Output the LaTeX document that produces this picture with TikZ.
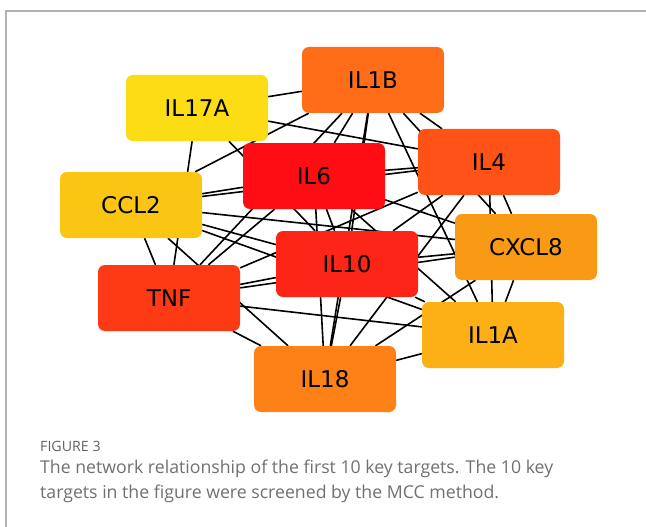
\documentclass[tikz,border=0pt]{standalone}
\usepackage{fontspec}
\newfontfamily\genefont{DejaVu Sans}
\newfontfamily\capfont{Open Sans}
\usetikzlibrary{backgrounds}
\definecolor{cil1b}{RGB}{255,109,24}
\definecolor{cil17a}{RGB}{252,220,20}
\definecolor{cil6}{RGB}{254,13,21}
\definecolor{cil4}{RGB}{255,82,22}
\definecolor{cccl2}{RGB}{251,197,20}
\definecolor{ccxcl8}{RGB}{249,154,20}
\definecolor{cil10}{RGB}{252,37,23}
\definecolor{ctnf}{RGB}{253,58,20}
\definecolor{cil1a}{RGB}{253,175,22}
\definecolor{cil18}{RGB}{254,129,23}
\definecolor{framegray}{RGB}{178,178,178}
\definecolor{captext}{RGB}{112,112,112}
\tikzset{
    % Gene boxes
    gene/.style={rectangle, rounded corners=7pt, fill=#1, draw=none,
                minimum width=142pt, minimum height=66pt, inner sep=0pt,
                font=\genefont\fontsize{23}{26}\selectfont},
    % Interactions
    link/.style={line width=1.6pt, black},
    % Caption
    capnum/.style={anchor=base west, inner sep=0pt, text=captext!110,
                font=\capfont\fontsize{14.2}{17}\selectfont},
    capline/.style={anchor=base west, inner sep=0pt, text=captext,
                font=\capfont\fontsize{17.7}{22}\selectfont},
}

\begin{document}
\begin{tikzpicture}[x=1pt, y=-1pt]
\useasboundingbox (0,0) rectangle (646,527);
\draw[framegray, line width=1.5pt] (6,527) -- (6,11) -- (646,11);

\node[gene=cil1b]  (il1b)  at (373,80)  {IL1B};
\node[gene=cil17a] (il17a) at (197,108) {IL17A};
\node[gene=cil6]   (il6)   at (314,176) {IL6};
\node[gene=cil4]   (il4)   at (489,162) {IL4};
\node[gene=cccl2]  (ccl2)  at (131,205) {CCL2};
\node[gene=ccxcl8] (cxcl8) at (526,247) {CXCL8};
\node[gene=cil10]  (il10)  at (347,264) {IL10};
\node[gene=ctnf]   (tnf)   at (169,298) {TNF};
\node[gene=cil1a]  (il1a)  at (493,335) {IL1A};
\node[gene=cil18]  (il18)  at (325,379) {IL18};

% edges sit behind the boxes
\begin{pgfonlayer}{background}
\foreach \s/\others in {
    il17a/{il1b,il4,il10,tnf},
    il1b/{il6,il4,ccl2,cxcl8,il10,tnf,il1a,il18},
    il6/{il4,ccl2,cxcl8,il10,tnf,il1a,il18},
    il4/{ccl2,cxcl8,il10,tnf,il1a,il18},
    ccl2/{cxcl8,il10,tnf,il1a,il18},
    cxcl8/{il10,tnf,il1a,il18},
    il10/{tnf,il1a,il18},
    tnf/{il1a,il18},
    il1a/{il18}}
  \foreach \t in \others \draw[link] (\s) -- (\t);
\end{pgfonlayer}

\node[capnum]  (fignum) at (40,451) {FIGURE 3};
\node[capline] (cap1)   at (40,473) {The network relationship of the first 10 key targets. The 10 key};
\node[capline] (cap2)   at (40,498) {targets in the figure were screened by the MCC method.};
\end{tikzpicture}
\end{document}
